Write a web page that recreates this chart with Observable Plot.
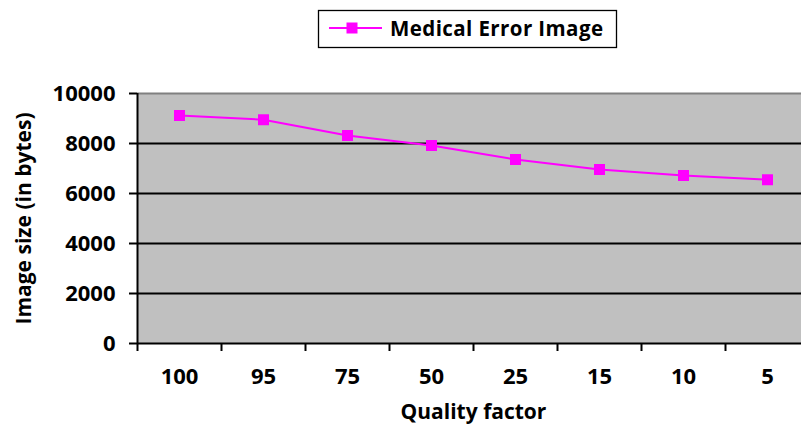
<!DOCTYPE html>
<html>
<head>
<meta charset="utf-8">
<script src="https://cdn.jsdelivr.net/npm/d3@7"></script>
<script src="https://cdn.jsdelivr.net/npm/@observablehq/plot@0.6"></script>
<style>
  html, body { margin: 0; padding: 0; background: white; overflow: hidden; }
  #chart { position: relative; width: 801px; height: 435px; font-family: "Open Sans", sans-serif; }
  #legend { position: relative; width: 801px; height: 60px; }
  #legend svg { position: absolute; left: 0; top: 0; }
</style>
</head>
<body>
<div id="chart">
  <div id="legend"></div>
  <div id="plot"></div>
</div>
<script>
// ---- data ----
const categories = ["100", "95", "75", "50", "25", "15", "10", "5"];
const sizes = [9120, 8950, 8320, 7920, 7360, 6960, 6720, 6550];
const yTicks = [0, 2000, 4000, 6000, 8000, 10000];
const seriesName = "Medical Error Image";
const xTitle = "Quality factor";
const yTitle = "Image size (in bytes)";

const magenta = "#ff00ff";
const fs = 22;
const data = categories.map((q, i) => ({q, i, size: sizes[i]}));
const xPos = d => d.i + 0.5;

// ---- legend (above the plot) ----
const lg = d3.select("#legend").append("svg").attr("width", 801).attr("height", 60);
lg.append("rect").attr("x", 318.5).attr("y", 10.5).attr("width", 298).attr("height", 37)
  .attr("fill", "white").attr("stroke", "black").attr("stroke-width", 1.3);
lg.append("line").attr("x1", 329).attr("x2", 382).attr("y1", 28).attr("y2", 28)
  .attr("stroke", magenta).attr("stroke-width", 2);
lg.append("rect").attr("x", 346.5).attr("y", 22.5).attr("width", 11).attr("height", 11).attr("fill", magenta);
lg.append("text").attr("x", 390).attr("y", 35.5)
  .attr("font-family", "Open Sans").attr("font-weight", "bold").attr("font-size", 20.5)
  .attr("fill", "black").attr("textLength", 213).attr("lengthAdjust", "spacing")
  .text(seriesName);

// ---- plot ----
const plot = Plot.plot({
  width: 801,
  height: 375,
  marginLeft: 137,
  marginRight: -8,
  marginTop: 33,
  marginBottom: 92,
  style: {fontFamily: "Open Sans", fontSize: fs + "px", fontWeight: "bold", color: "black", background: "white", overflow: "hidden"},
  x: {type: "linear", domain: [0, categories.length]},
  y: {domain: [0, 10000]},
  marks: [
    Plot.frame({fill: "#c0c0c0", stroke: "none"}),
    Plot.gridY(yTicks.filter(t => t > 0 && t < 10000), {stroke: "black", strokeOpacity: 1, strokeWidth: 2}),
    Plot.ruleY([10000], {stroke: "#808080", strokeWidth: 2}),
    Plot.ruleX([0], {stroke: "black", strokeWidth: 2}),
    Plot.ruleY([0], {stroke: "black", strokeWidth: 2}),
    Plot.axisY(yTicks, {tickSize: 8, tickPadding: 14, tickFormat: d => String(d), label: null, strokeWidth: 2, fontSize: fs}),
    Plot.axisX(d3.range(categories.length + 1), {tickSize: 8, tickFormat: () => "", label: null, strokeWidth: 2}),
    Plot.text(data, {x: xPos, frameAnchor: "bottom", dy: 40, text: "q", fontSize: fs}),
    Plot.text([yTitle], {frameAnchor: "left", textAnchor: "middle", rotate: -90, dx: -113, fontSize: fs - 1}),
    Plot.text([xTitle], {frameAnchor: "bottom", textAnchor: "middle", dy: 75, fontSize: fs - 1}),
    Plot.line(data, {x: xPos, y: "size", stroke: magenta, strokeWidth: 2}),
    Plot.dot(data, {x: xPos, y: "size", symbol: "square", r: 6.2, fill: magenta, stroke: "none"})
  ]
});
document.getElementById("plot").appendChild(plot);
</script>
</body>
</html>
